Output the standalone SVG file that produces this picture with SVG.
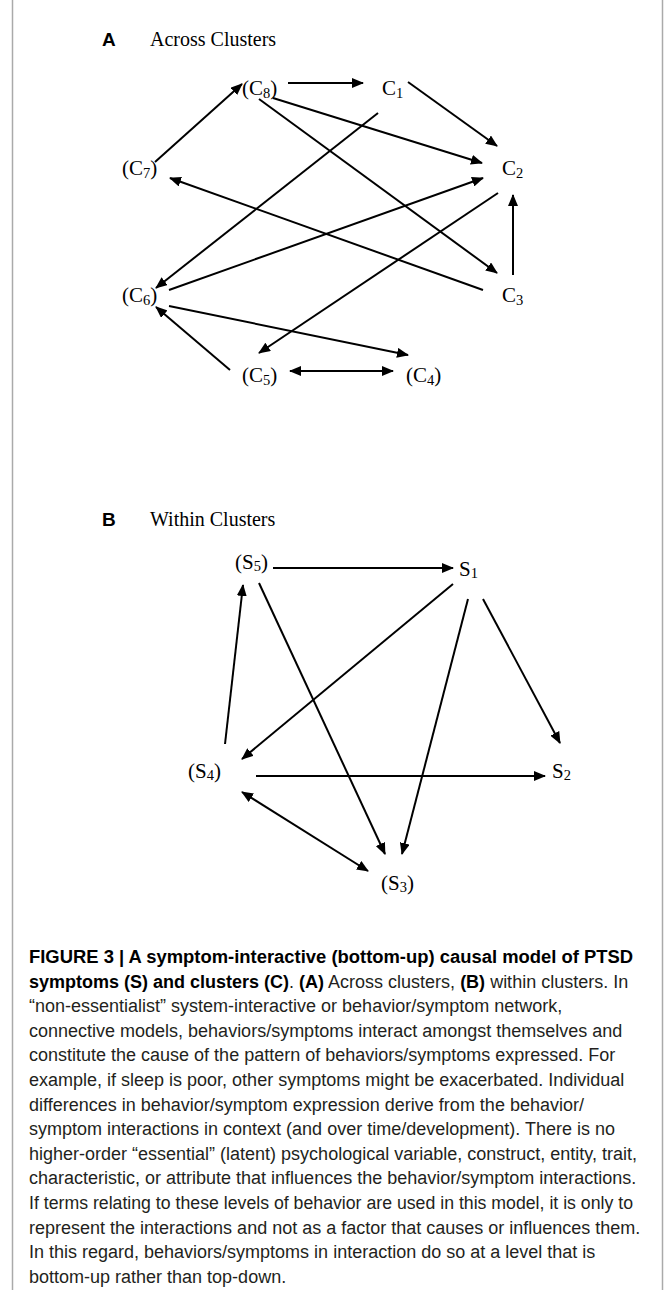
<svg xmlns="http://www.w3.org/2000/svg" width="666" height="1290" viewBox="0 0 666 1290">
<defs>
<marker id="ah" viewBox="0 0 12 10" refX="11" refY="5" markerWidth="12" markerHeight="10" markerUnits="userSpaceOnUse" orient="auto-start-reverse"><path d="M0,0 L12,5 L0,10 z" fill="#000"/></marker>
</defs>
<style>
.lbl{font-family:"Liberation Serif","Times New Roman",serif;font-size:21px;fill:#000}
.s{font-size:14.5px}
.hd{font-family:"Liberation Sans",Arial,sans-serif;font-weight:bold;font-size:19px;fill:#000}
.ttl{font-family:"Liberation Serif","Times New Roman",serif;font-size:20px;fill:#000}
.cap{font-family:"Liberation Sans",Arial,sans-serif;font-size:18px;fill:#231f20}
.b{font-weight:bold;fill:#000}
.e{stroke:#000;stroke-width:2;fill:none;marker-end:url(#ah)}
.bi{marker-start:url(#ah)}
.frame{stroke:#aaa;stroke-width:1.5}
</style>
<rect width="666" height="1290" fill="#fff"/>
<g id="frame">
<line class="frame" x1="12.5" y1="0" x2="12.5" y2="1290"/>
<line class="frame" x1="662.5" y1="0" x2="662.5" y2="1290"/>
</g>
<g id="panel-a-title"><text class="hd" x="102" y="46">A</text><text class="ttl" x="150" y="46">Across Clusters</text></g>
<g id="panel-b-title"><text class="hd" x="102" y="526">B</text><text class="ttl" x="150" y="526">Within Clusters</text></g>

<g id="connectors">
<line class="e" x1="288" y1="83" x2="363" y2="83"/>
<line class="e" x1="408" y1="82" x2="497" y2="146"/>
<line class="e" x1="273" y1="98" x2="482" y2="163"/>
<line class="e" x1="259" y1="99" x2="497" y2="273"/>
<line class="e" x1="155" y1="162" x2="242" y2="84"/>
<line class="e" x1="378" y1="113" x2="156" y2="288"/>
<line class="e" x1="483" y1="290" x2="170" y2="178"/>
<line class="e" x1="169" y1="290" x2="483" y2="178"/>
<line class="e" x1="498" y1="193" x2="259" y2="353"/>
<line class="e" x1="513" y1="275" x2="513" y2="195"/>
<line class="e" x1="169" y1="306" x2="408" y2="355"/>
<line class="e" x1="230" y1="370" x2="156" y2="307"/>
<line class="e bi" x1="290" y1="371" x2="393" y2="371"/>

<line class="e" x1="273" y1="568" x2="453" y2="568"/>
<line class="e" x1="225" y1="744" x2="243" y2="585"/>
<line class="e" x1="259" y1="583" x2="385" y2="854"/>
<line class="e" x1="453" y1="584" x2="242" y2="759"/>
<line class="e" x1="468" y1="599" x2="402" y2="854"/>
<line class="e" x1="483" y1="599" x2="560" y2="743"/>
<line class="e" x1="256" y1="776" x2="545" y2="776"/>
<line class="e bi" x1="242" y1="792" x2="368" y2="871"/>
</g>

<g id="C8"><text class="lbl" x="242" y="95">(C<tspan class="s" dy="3">8</tspan><tspan dy="-3">)</tspan></text></g>
<g id="C1"><text class="lbl" x="382" y="95">C<tspan class="s" dy="3">1</tspan></text></g>
<g id="C7"><text class="lbl" x="122" y="175">(C<tspan class="s" dy="3">7</tspan><tspan dy="-3">)</tspan></text></g>
<g id="C2"><text class="lbl" x="502" y="175">C<tspan class="s" dy="3">2</tspan></text></g>
<g id="C6"><text class="lbl" x="122" y="302">(C<tspan class="s" dy="3">6</tspan><tspan dy="-3">)</tspan></text></g>
<g id="C3"><text class="lbl" x="502" y="302">C<tspan class="s" dy="3">3</tspan></text></g>
<g id="C5"><text class="lbl" x="242" y="382">(C<tspan class="s" dy="3">5</tspan><tspan dy="-3">)</tspan></text></g>
<g id="C4"><text class="lbl" x="406" y="382">(C<tspan class="s" dy="3">4</tspan><tspan dy="-3">)</tspan></text></g>

<g id="S5"><text class="lbl" x="235" y="569">(S<tspan class="s" dy="2">5</tspan><tspan dy="-2">)</tspan></text></g>
<g id="S1"><text class="lbl" x="459" y="576">S<tspan class="s" dy="2">1</tspan></text></g>
<g id="S4"><text class="lbl" x="188" y="778">(S<tspan class="s" dy="2">4</tspan><tspan dy="-2">)</tspan></text></g>
<g id="S2"><text class="lbl" x="552" y="778">S<tspan class="s" dy="2">2</tspan></text></g>
<g id="S3"><text class="lbl" x="381" y="890">(S<tspan class="s" dy="2">3</tspan><tspan dy="-2">)</tspan></text></g>

<g id="caption" class="cap">
<text x="29" y="963" class="b" textLength="604" lengthAdjust="spacingAndGlyphs">FIGURE 3 | A symptom-interactive (bottom-up) causal model of PTSD</text>
<text x="29" y="987.6"><tspan class="b">symptoms (S) and clusters (C)</tspan>. <tspan class="b">(A)</tspan> Across clusters, <tspan class="b">(B)</tspan> within clusters. In</text>
<text x="29" y="1012.2">“non-essentialist” system-interactive or behavior/symptom network,</text>
<text x="29" y="1036.8">connective models, behaviors/symptoms interact amongst themselves and</text>
<text x="29" y="1061.4">constitute the cause of the pattern of behaviors/symptoms expressed. For</text>
<text x="29" y="1086">example, if sleep is poor, other symptoms might be exacerbated. Individual</text>
<text x="29" y="1110.6">differences in behavior/symptom expression derive from the behavior/</text>
<text x="29" y="1135.2">symptom interactions in context (and over time/development). There is no</text>
<text x="29" y="1159.8">higher-order “essential” (latent) psychological variable, construct, entity, trait,</text>
<text x="29" y="1184.4">characteristic, or attribute that influences the behavior/symptom interactions.</text>
<text x="29" y="1209" textLength="604" lengthAdjust="spacingAndGlyphs">If terms relating to these levels of behavior are used in this model, it is only to</text>
<text x="29" y="1233.6">represent the interactions and not as a factor that causes or influences them.</text>
<text x="29" y="1258.2">In this regard, behaviors/symptoms in interaction do so at a level that is</text>
<text x="29" y="1282.8">bottom-up rather than top-down.</text>
</g>
</svg>
